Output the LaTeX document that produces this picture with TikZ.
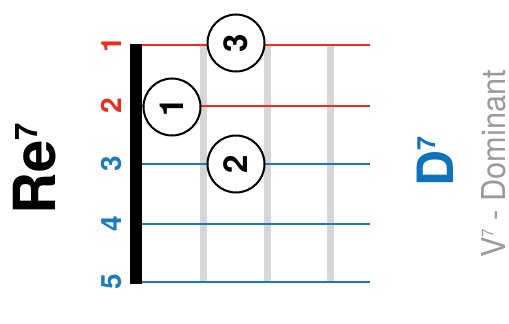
\documentclass[tikz,border=0pt]{standalone}
\usepackage{fontspec}
\setmainfont{TeX Gyre Heros}
\definecolor{strred}{HTML}{EE2B1F}
\definecolor{strblue}{HTML}{1B7BC1}
\definecolor{chordblue}{HTML}{0E73BA}
\definecolor{fretgray}{HTML}{D6D6D6}
\definecolor{notegray}{HTML}{9A9A9A}

\begin{document}
\begin{tikzpicture}[x=1pt,y=-1pt,
  finger/.style={circle,draw,line width=2pt,fill=white,minimum size=57pt,inner sep=0pt,
    font=\bfseries\fontsize{33}{33}\selectfont,rotate=90},
  strnum/.style={font=\bfseries\fontsize{28}{28}\selectfont,rotate=90,anchor=base,inner sep=0pt}]
  \useasboundingbox (0,0) rectangle (509,324);
  % frets
  \foreach \f/\x in {1/203,2/267,3/330}{
    \coordinate (t\f) at (\x,46);
    \coordinate (b\f) at (\x,282);
    \draw[fretgray,line width=7pt] (t\f)--(b\f);
  }
  % strings and their numbers
  \foreach \s/\y/\c in {1/45/strred,2/106/strred,3/164/strblue,4/224/strblue,5/282/strblue}{
    \coordinate (s\s) at (142,\y);
    \coordinate (e\s) at (370,\y);
    \draw[\c,line width=2pt] (s\s)--(e\s);
    \node[strnum,text=\c] (n\s) at (121,\y) {\s};
  }
  % nut
  \fill (130,44) rectangle (142,284);
  % fingers
  \node[finger] (f1) at (172,107) {1};
  \node[finger] (f2) at (236,164) {2};
  \node[finger] (f3) at (236,43) {3};
  % chord names
  \node[rotate=90,anchor=base west,inner sep=0pt] (re) at (55,215)
    {\fontsize{58}{58}\selectfont\bfseries Re\raisebox{18pt}{\fontsize{31}{31}\selectfont 7}};
  \node[rotate=90,anchor=base west,inner sep=0pt,text=chordblue] (d) at (453,187)
    {\fontsize{50}{50}\selectfont\bfseries D\raisebox{18pt}{\fontsize{25}{25}\selectfont 7}};
  \node[rotate=90,anchor=base west,inner sep=0pt,text=notegray] (dom) at (505,258)
    {\resizebox{188pt}{24pt}{\fontsize{34}{34}\selectfont V\raisebox{12pt}{\fontsize{17}{17}\selectfont 7} - Dominant}};
\end{tikzpicture}
\end{document}
